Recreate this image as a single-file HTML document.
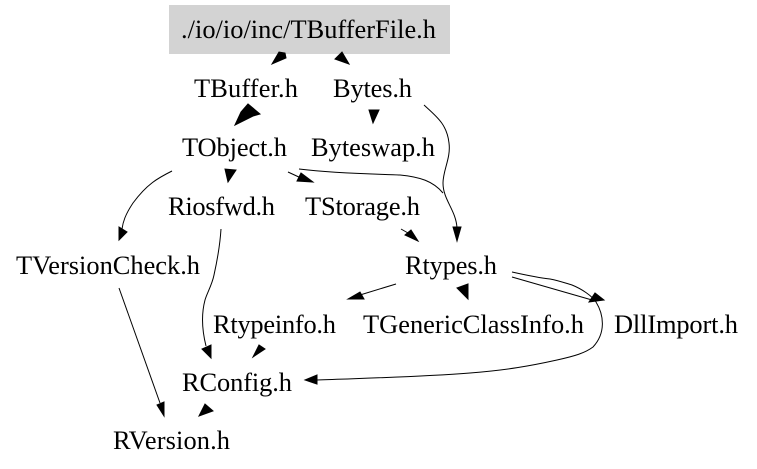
<!DOCTYPE html>
<html>
<head>
<meta charset="utf-8">
<style>
html,body{margin:0;padding:0;background:#fff;width:757px;height:469px;overflow:hidden}
svg{display:block}
text{font-family:"Liberation Serif",serif;font-size:26.4px;fill:#000}
path.e{fill:none;stroke:#000;stroke-width:1}
polygon{fill:#000;stroke:#000;stroke-width:1}
</style>
</head>
<body>
<svg width="757" height="469" viewBox="0 0 757 469" xmlns="http://www.w3.org/2000/svg">
<rect x="169" y="5" width="281" height="49" fill="#d3d3d3"/>
<text x="181" y="38" textLength="255" lengthAdjust="spacing">./io/io/inc/TBufferFile.h</text>
<text x="194" y="97" textLength="104" lengthAdjust="spacing">TBuffer.h</text>
<text x="333" y="97" textLength="79" lengthAdjust="spacing">Bytes.h</text>
<text x="182" y="156" textLength="105" lengthAdjust="spacing">TObject.h</text>
<text x="311" y="156" textLength="124" lengthAdjust="spacing">Byteswap.h</text>
<text x="168" y="215" textLength="107" lengthAdjust="spacing">Riosfwd.h</text>
<text x="305" y="215" textLength="115" lengthAdjust="spacing">TStorage.h</text>
<text x="16" y="274" textLength="184" lengthAdjust="spacing">TVersionCheck.h</text>
<text x="405" y="274" textLength="92" lengthAdjust="spacing">Rtypes.h</text>
<text x="213" y="333" textLength="123" lengthAdjust="spacing">Rtypeinfo.h</text>
<text x="363" y="333" textLength="221" lengthAdjust="spacing">TGenericClassInfo.h</text>
<text x="614" y="333" textLength="124" lengthAdjust="spacing">DllImport.h</text>
<text x="182" y="391" textLength="110" lengthAdjust="spacing">RConfig.h</text>
<text x="113" y="449" textLength="117" lengthAdjust="spacing">RVersion.h</text>

<polygon points="272,64 279,52 285,53 286,58"/>
<polygon points="349,64 335,59 342,52"/>

<polygon points="235,125 241,112 248,104 260,114 253,116 243,121"/>

<polygon points="373,123 369,110 379,110"/>

<path class="e" d="M424,105 C436,116 447,124 449,143 C451,158 443,170 443,183 C443,200 456,210 457,228"/>
<polygon points="457,241 453,227 461,227"/>

<path class="e" d="M299,169 C340,174 380,174 400,175 C420,177 433,181 443,193"/>

<path class="e" d="M288,172 L301,178"/>
<polygon points="313,182 301,173 297,181"/>

<path class="e" d="M401,229 L408,233"/>
<polygon points="418,241 405,235 411,230"/>

<polygon points="228,182 225,169 236,170"/>

<path class="e" d="M172,171 C158,178 147,184 133,203 C125,215 123,222 122,229"/>
<polygon points="119,240 119,227 127,232"/>

<path class="e" d="M221,229 C220,245 218,257 214,275 C212,285 207,293 205,300 C201,315 202,330 206,346"/>
<polygon points="211,358 202,349 211,345"/>

<polygon points="253,357 259,345 265,349"/>

<path class="e" d="M119,288 L160,403"/>
<polygon points="164,416 157,405 164,402"/>

<polygon points="199,416 205,404 213,411"/>

<path class="e" d="M396,284 L360,295"/>
<polygon points="348,299 360,292 364,299"/>

<polygon points="457,288 468,284 468,299"/>

<path class="e" d="M512,277 L592,300"/>
<polygon points="604,300 589,302 595,293"/>

<path class="e" d="M512,272 C530,276 540,278 550,279 C560,281 565,283 572,285 C582,289 592,296 596,302 C604,315 606,333 593,347 C585,353 575,356 557,360 C530,366 507,370 470,373 C420,377 370,378 317,380"/>
<polygon points="305,380 317,375 317,384"/>
</svg>
</body>
</html>
